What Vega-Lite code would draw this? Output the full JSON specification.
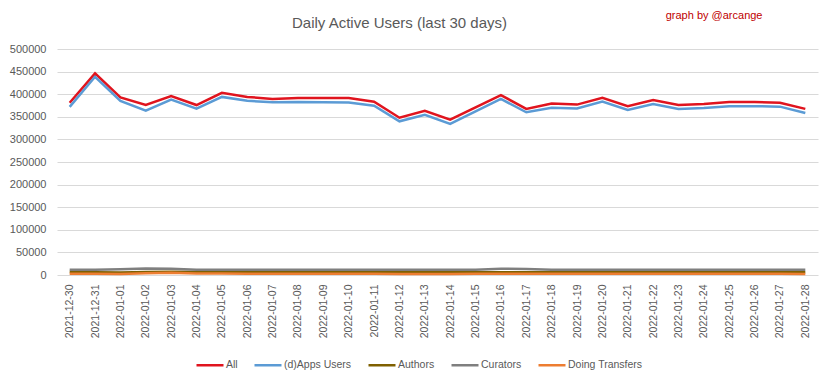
{
"$schema": "https://vega.github.io/schema/vega-lite/v6.json",
"autosize": {"type": "none"},
"width": 761, "height": 226,
"padding": {"left": 57, "top": 49, "right": 15, "bottom": 104},
"background": "white",
"title": {"text": "Daily Active Users (last 30 days)", "font": "Liberation Sans", "fontSize": 15, "fontWeight": "normal", "color": "#595959", "anchor": "middle", "dx": -38, "offset": -22},
"data": {"values": [
{"date":"2021-12-30","series":"All","value":381000},{"date":"2021-12-31","series":"All","value":446000},{"date":"2022-01-01","series":"All","value":393000},{"date":"2022-01-02","series":"All","value":376000},{"date":"2022-01-03","series":"All","value":396000},{"date":"2022-01-04","series":"All","value":376000},{"date":"2022-01-05","series":"All","value":403000},{"date":"2022-01-06","series":"All","value":394000},{"date":"2022-01-07","series":"All","value":389500},{"date":"2022-01-08","series":"All","value":391500},{"date":"2022-01-09","series":"All","value":391500},{"date":"2022-01-10","series":"All","value":391500},{"date":"2022-01-11","series":"All","value":383500},{"date":"2022-01-12","series":"All","value":348000},{"date":"2022-01-13","series":"All","value":363500},{"date":"2022-01-14","series":"All","value":343500},{"date":"2022-01-15","series":"All","value":371000},{"date":"2022-01-16","series":"All","value":398000},{"date":"2022-01-17","series":"All","value":367500},{"date":"2022-01-18","series":"All","value":379500},{"date":"2022-01-19","series":"All","value":377000},{"date":"2022-01-20","series":"All","value":392000},{"date":"2022-01-21","series":"All","value":373500},{"date":"2022-01-22","series":"All","value":387000},{"date":"2022-01-23","series":"All","value":376000},{"date":"2022-01-24","series":"All","value":378500},{"date":"2022-01-25","series":"All","value":382500},{"date":"2022-01-26","series":"All","value":382500},{"date":"2022-01-27","series":"All","value":381000},{"date":"2022-01-28","series":"All","value":367500},
{"date":"2021-12-30","series":"(d)Apps Users","value":372000},{"date":"2021-12-31","series":"(d)Apps Users","value":438500},{"date":"2022-01-01","series":"(d)Apps Users","value":385000},{"date":"2022-01-02","series":"(d)Apps Users","value":363500},{"date":"2022-01-03","series":"(d)Apps Users","value":388000},{"date":"2022-01-04","series":"(d)Apps Users","value":368000},{"date":"2022-01-05","series":"(d)Apps Users","value":394000},{"date":"2022-01-06","series":"(d)Apps Users","value":385500},{"date":"2022-01-07","series":"(d)Apps Users","value":382000},{"date":"2022-01-08","series":"(d)Apps Users","value":383000},{"date":"2022-01-09","series":"(d)Apps Users","value":382000},{"date":"2022-01-10","series":"(d)Apps Users","value":381500},{"date":"2022-01-11","series":"(d)Apps Users","value":374500},{"date":"2022-01-12","series":"(d)Apps Users","value":340000},{"date":"2022-01-13","series":"(d)Apps Users","value":354500},{"date":"2022-01-14","series":"(d)Apps Users","value":334500},{"date":"2022-01-15","series":"(d)Apps Users","value":362000},{"date":"2022-01-16","series":"(d)Apps Users","value":389500},{"date":"2022-01-17","series":"(d)Apps Users","value":360000},{"date":"2022-01-18","series":"(d)Apps Users","value":370000},{"date":"2022-01-19","series":"(d)Apps Users","value":368500},{"date":"2022-01-20","series":"(d)Apps Users","value":383500},{"date":"2022-01-21","series":"(d)Apps Users","value":365000},{"date":"2022-01-22","series":"(d)Apps Users","value":378000},{"date":"2022-01-23","series":"(d)Apps Users","value":367500},{"date":"2022-01-24","series":"(d)Apps Users","value":369500},{"date":"2022-01-25","series":"(d)Apps Users","value":373500},{"date":"2022-01-26","series":"(d)Apps Users","value":373500},{"date":"2022-01-27","series":"(d)Apps Users","value":372500},{"date":"2022-01-28","series":"(d)Apps Users","value":358500},
{"date":"2021-12-30","series":"Authors","value":6500},{"date":"2021-12-31","series":"Authors","value":6200},{"date":"2022-01-01","series":"Authors","value":5800},{"date":"2022-01-02","series":"Authors","value":6600},{"date":"2022-01-03","series":"Authors","value":7000},{"date":"2022-01-04","series":"Authors","value":6400},{"date":"2022-01-05","series":"Authors","value":6300},{"date":"2022-01-06","series":"Authors","value":6200},{"date":"2022-01-07","series":"Authors","value":6100},{"date":"2022-01-08","series":"Authors","value":6000},{"date":"2022-01-09","series":"Authors","value":6000},{"date":"2022-01-10","series":"Authors","value":6100},{"date":"2022-01-11","series":"Authors","value":6100},{"date":"2022-01-12","series":"Authors","value":6000},{"date":"2022-01-13","series":"Authors","value":6000},{"date":"2022-01-14","series":"Authors","value":5900},{"date":"2022-01-15","series":"Authors","value":6000},{"date":"2022-01-16","series":"Authors","value":6200},{"date":"2022-01-17","series":"Authors","value":6100},{"date":"2022-01-18","series":"Authors","value":6000},{"date":"2022-01-19","series":"Authors","value":6000},{"date":"2022-01-20","series":"Authors","value":6100},{"date":"2022-01-21","series":"Authors","value":6000},{"date":"2022-01-22","series":"Authors","value":6000},{"date":"2022-01-23","series":"Authors","value":5900},{"date":"2022-01-24","series":"Authors","value":6000},{"date":"2022-01-25","series":"Authors","value":6000},{"date":"2022-01-26","series":"Authors","value":6000},{"date":"2022-01-27","series":"Authors","value":6000},{"date":"2022-01-28","series":"Authors","value":5900},
{"date":"2021-12-30","series":"Curators","value":11500},{"date":"2021-12-31","series":"Curators","value":11500},{"date":"2022-01-01","series":"Curators","value":12500},{"date":"2022-01-02","series":"Curators","value":14500},{"date":"2022-01-03","series":"Curators","value":14000},{"date":"2022-01-04","series":"Curators","value":11800},{"date":"2022-01-05","series":"Curators","value":11600},{"date":"2022-01-06","series":"Curators","value":11500},{"date":"2022-01-07","series":"Curators","value":11500},{"date":"2022-01-08","series":"Curators","value":11500},{"date":"2022-01-09","series":"Curators","value":11500},{"date":"2022-01-10","series":"Curators","value":11500},{"date":"2022-01-11","series":"Curators","value":11500},{"date":"2022-01-12","series":"Curators","value":11400},{"date":"2022-01-13","series":"Curators","value":11400},{"date":"2022-01-14","series":"Curators","value":11400},{"date":"2022-01-15","series":"Curators","value":11600},{"date":"2022-01-16","series":"Curators","value":14000},{"date":"2022-01-17","series":"Curators","value":13000},{"date":"2022-01-18","series":"Curators","value":11600},{"date":"2022-01-19","series":"Curators","value":11500},{"date":"2022-01-20","series":"Curators","value":11500},{"date":"2022-01-21","series":"Curators","value":11500},{"date":"2022-01-22","series":"Curators","value":11500},{"date":"2022-01-23","series":"Curators","value":11500},{"date":"2022-01-24","series":"Curators","value":11500},{"date":"2022-01-25","series":"Curators","value":11500},{"date":"2022-01-26","series":"Curators","value":11500},{"date":"2022-01-27","series":"Curators","value":11500},{"date":"2022-01-28","series":"Curators","value":11400},
{"date":"2021-12-30","series":"Doing Transfers","value":3000},{"date":"2021-12-31","series":"Doing Transfers","value":2500},{"date":"2022-01-01","series":"Doing Transfers","value":2400},{"date":"2022-01-02","series":"Doing Transfers","value":4000},{"date":"2022-01-03","series":"Doing Transfers","value":5000},{"date":"2022-01-04","series":"Doing Transfers","value":3500},{"date":"2022-01-05","series":"Doing Transfers","value":3200},{"date":"2022-01-06","series":"Doing Transfers","value":3000},{"date":"2022-01-07","series":"Doing Transfers","value":2600},{"date":"2022-01-08","series":"Doing Transfers","value":2500},{"date":"2022-01-09","series":"Doing Transfers","value":2500},{"date":"2022-01-10","series":"Doing Transfers","value":2500},{"date":"2022-01-11","series":"Doing Transfers","value":2500},{"date":"2022-01-12","series":"Doing Transfers","value":2400},{"date":"2022-01-13","series":"Doing Transfers","value":2400},{"date":"2022-01-14","series":"Doing Transfers","value":2400},{"date":"2022-01-15","series":"Doing Transfers","value":2500},{"date":"2022-01-16","series":"Doing Transfers","value":3000},{"date":"2022-01-17","series":"Doing Transfers","value":2800},{"date":"2022-01-18","series":"Doing Transfers","value":2500},{"date":"2022-01-19","series":"Doing Transfers","value":2500},{"date":"2022-01-20","series":"Doing Transfers","value":2500},{"date":"2022-01-21","series":"Doing Transfers","value":2500},{"date":"2022-01-22","series":"Doing Transfers","value":2500},{"date":"2022-01-23","series":"Doing Transfers","value":2500},{"date":"2022-01-24","series":"Doing Transfers","value":2500},{"date":"2022-01-25","series":"Doing Transfers","value":2500},{"date":"2022-01-26","series":"Doing Transfers","value":2500},{"date":"2022-01-27","series":"Doing Transfers","value":2500},{"date":"2022-01-28","series":"Doing Transfers","value":2400}
]},
"mark": {"type": "line", "strokeWidth": 2.5},
"encoding": {
"x": {"field": "date", "type": "ordinal", "sort": null,
 "axis": {"title": null, "labelAngle": -90, "ticks": false, "domain": false, "grid": false, "labelPadding": 9, "labelFont": "Liberation Sans", "labelFontSize": 10.5, "labelColor": "#595959"}},
"y": {"field": "value", "type": "quantitative", "scale": {"domain": [0, 500000], "nice": false},
 "axis": {"values": [0,50000,100000,150000,200000,250000,300000,350000,400000,450000,500000], "format": "d", "domain": false, "ticks": false, "labelPadding": 11, "labelFont": "Liberation Sans", "labelFontSize": 11, "labelColor": "#595959", "gridColor": "#d9d9d9", "gridWidth": 1,
  "title": "graph by @arcange", "titleAngle": 0, "titleX": 705, "titleY": -34, "titleAlign": "right", "titleBaseline": "middle", "titleColor": "#c00000", "titleFont": "Liberation Sans", "titleFontWeight": "normal", "titleFontSize": 11}},
"color": {"field": "series", "type": "nominal",
 "scale": {"domain": ["All", "(d)Apps Users", "Authors", "Curators", "Doing Transfers"], "range": ["#e0141e", "#5b9bd5", "#7f6000", "#7f7f7f", "#ed7d31"]},
 "legend": {"title": null, "orient": "none", "legendX": 138, "legendY": 301, "direction": "horizontal", "symbolType": "stroke", "symbolSize": 729, "symbolStrokeWidth": 2.5, "labelFont": "Liberation Sans", "labelFontSize": 10.5, "labelColor": "#595959", "columnPadding": 11, "labelOffset": 1}}
},
"config": {"view": {"stroke": null}}
}
